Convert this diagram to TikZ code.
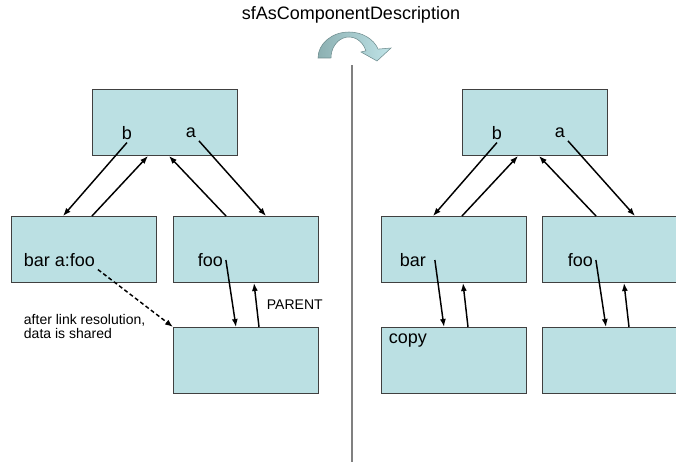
\documentclass[tikz,border=0pt]{standalone}
\usepackage{fontspec}
\setmainfont{Liberation Sans}
\usetikzlibrary{arrows.meta}
\usetikzlibrary{calc}
\usepackage{xcolor}

\definecolor{boxfill}{RGB}{187,224,227}
\definecolor{boxline}{RGB}{64,64,64}
\definecolor{turndark}{RGB}{140,176,178}
\definecolor{turnlight}{RGB}{192,228,232}

\tikzset{
  blk/.style={draw=boxline,fill=boxfill,line width=0.75,anchor=north west,inner sep=0pt,minimum width=108.75pt,minimum height=49.5pt},
  lbl/.style={inner sep=2pt,font=\fontsize{13.5}{16}\selectfont},
  note/.style={inner sep=2pt,font=\fontsize{10.5}{10.5}\selectfont},
  lnk/.style={line width=1.1pt,-{Latex[length=6pt,width=4.5pt]}}
}

\begin{document}
\begin{tikzpicture}[x=0.75pt,y=0.75pt,yscale=-1,xscale=1]
\useasboundingbox (0,0) rectangle (676,464);
\clip (0,0) rectangle (676,464);

% Text Node
\node[lbl] (title) at (351,15) {sfAsComponentDescription};

%Shape: Curved Arrow
\shadedraw[left color=turndark,right color=turnlight,draw={rgb,255:red,110;green,140;blue,142},line width=0.4]
  (318,58) arc[start angle=180,end angle=340,x radius=31,y radius=26]
  -- (391,48) -- (377,61) -- (361,52) -- (365.9,50.8)
  arc[start angle=340,end angle=180,x radius=18,y radius=21] -- cycle;

%Straight Lines: divider
\draw [color={rgb, 255:red, 128; green, 128; blue, 128 }, line width=1.2pt] (352,65) -- (352,462);

%Shape: Rectangles, left half
\node[blk] (topL) at (92,89) {};
\node[blk] (midL) at (11,216) {};
\node[blk] (midR) at (173,216) {};
\node[blk] (botL) at (173,327) {};
%Shape: Rectangles, right half
\node[blk] (topR) at (462,89) {};
\node[blk] (barR) at (381,216) {};
\node[blk] (fooR) at (542,216) {};
\node[blk] (copyR) at (381,327) {};
\node[blk] (shR) at (542,327) {};

% Text Node
\node[lbl] (b1) at (127,133) {b};
\node[lbl] (a1) at (191,133) {a};
\node[lbl,anchor=west] (bar1) at (21,260) {bar a:foo};
\node[lbl,anchor=west] (foo1) at (195,260) {foo};
\node[note,anchor=west] (parent) at (264,305) {PARENT};
\node[note,anchor=north west,align=left] (shared) at (21,311) {after link resolution,\\data is shared};
% Text Node
\node[lbl] (b2) at (497,133) {b};
\node[lbl] (a2) at (560,133) {a};
\node[lbl,anchor=west] (bar2) at (397,260) {bar};
\node[lbl,anchor=west] (foo2) at (565,260) {foo};
\node[lbl,anchor=west] (copy) at (386,341) {copy};

%Straight Lines: left half
\draw[lnk] (b1.south) -- ($(midL.north west)+(52,0)$);
\draw[lnk] ($(midL.north west)+(81,0)$) -- ($(topL.south west)+(56,0)$);
\draw[lnk] ($(midR.north west)+(53,0)$) -- ($(topL.south west)+(77,0)$);
\draw[lnk] (a1.south east) -- ($(midR.north west)+(93,0)$);
\draw[lnk] (foo1.east) -- ($(botL.north west)+(63,0)$);
\draw[lnk] ($(botL.north west)+(86,0)$) -- ($(midR.south west)+(81,0)$);
\draw[lnk,dash pattern=on 3pt off 2pt] (bar1.south east) -- (botL.north west);

%Straight Lines: right half
\draw[lnk] (b2.south) -- ($(barR.north west)+(52,0)$);
\draw[lnk] ($(barR.north west)+(81,0)$) -- ($(topR.south west)+(56,0)$);
\draw[lnk] ($(fooR.north west)+(54,0)$) -- ($(topR.south west)+(77,0)$);
\draw[lnk] (a2.south east) -- ($(fooR.north west)+(93,0)$);
\draw[lnk] ($(bar2.east)+(6,0)$) -- ($(copyR.north west)+(63,0)$);
\draw[lnk] ($(copyR.north west)+(87,0)$) -- ($(barR.south west)+(82,0)$);
\draw[lnk] (foo2.east) -- ($(shR.north west)+(64,0)$);
\draw[lnk] ($(shR.north west)+(87,0)$) -- ($(fooR.south west)+(82,0)$);

\end{tikzpicture}
\end{document}
